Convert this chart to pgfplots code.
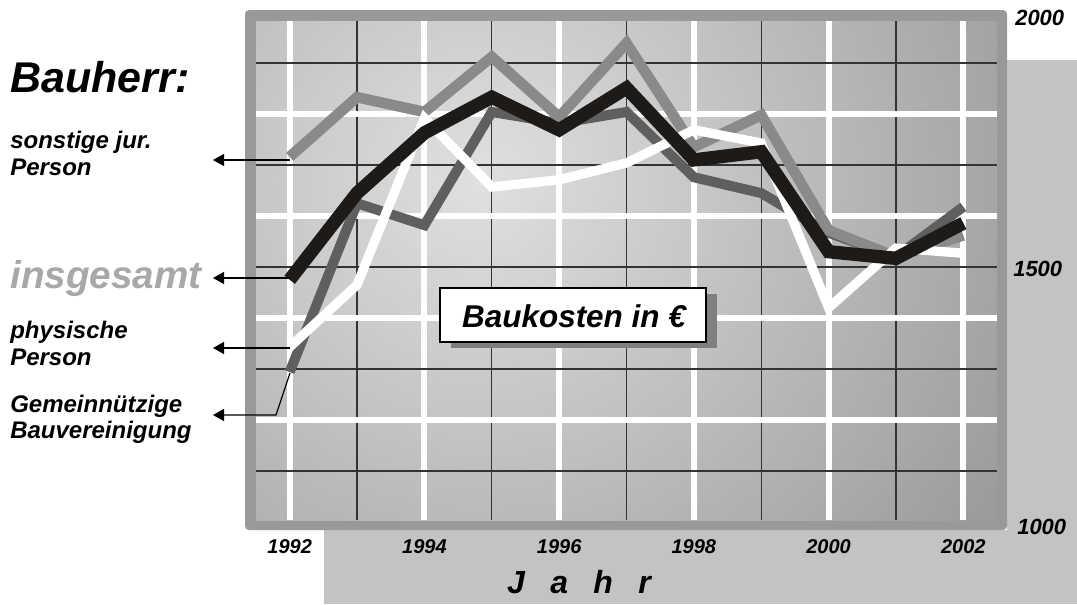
\documentclass[border=0pt]{standalone}
\usepackage{fontspec}
\setmainfont{Liberation Sans}
\usepackage{pgfplots}
\pgfplotsset{compat=1.18}
\usetikzlibrary{arrows.meta}
\definecolor{medg}{HTML}{8A8A8A}
\definecolor{darkg}{HTML}{5F5F5F}
\definecolor{lineblack}{HTML}{1E1A17}
\definecolor{framegray}{HTML}{999999}
\definecolor{panel}{HTML}{C3C3C3}
\definecolor{shadowc}{HTML}{7F7F7F}
\definecolor{insg}{HTML}{A8A8A8}
\definecolor{griddark}{HTML}{333333}
\definecolor{bgin}{HTML}{E0E0E0}
\definecolor{bgout}{HTML}{9A9A9A}
\newcommand{\bi}[1]{\fontsize{#1}{#1}\selectfont\bfseries\itshape}
\begin{document}
\begin{tikzpicture}
\begin{scope}[x=0.75pt,y=-0.75pt]
  \fill[white] (0,0) rectangle (1077,604);
  \useasboundingbox (0,0) rectangle (1077,604);
  \fill[panel] (1007,60) rectangle (1077,604);
  \fill[panel] (324,530) rectangle (1077,604);
  \fill[framegray, rounded corners=3pt] (245,10) rectangle (1007,530);
  \begin{scope}
    \clip (256,21) rectangle (997,520);
    \shade[inner color=bgin, outer color=bgout] (480,180) circle (620);
  \end{scope}
\end{scope}

\begin{axis}[
  at={(192pt,-390pt)}, anchor=south west,
  scale only axis, width=555.75pt, height=374.25pt,
  xmin=1991.5, xmax=2002.5, ymin=1003.9, ymax=1982.4,
  axis line style={draw=none},
  major tick length=0pt, minor tick length=0pt,
  xtick={1992,1994,1996,1998,2000,2002},
  xticklabels={1992,1994,1996,1998,2000,2002},
  minor xtick={1993,1995,1997,1999,2001},
  ytick={1200,1400,1600,1800},
  yticklabels={},
  minor ytick={1100,1300,1500,1700,1900},
  grid=both,
  major grid style={white, line width=4.5pt},
  minor grid style={griddark, line width=0.9pt},
  /pgf/number format/assume math mode=true,
  xticklabel style={font=\bi{15}, anchor=center, yshift=-20.25pt, text=black},
  xlabel={J\hspace{19pt}a\hspace{19pt}h\hspace{19pt}r},
  xlabel style={at={(axis description cs:0.3387,-0.1463)}, anchor=base west, inner sep=0pt, font=\bi{24}},
  clip=false,
]
% Gemeinnuetzige Bauvereinigung
\addplot[darkg, line width=7.5pt] coordinates {
(1992,1294) (1993,1625) (1994,1582) (1995,1804) (1996,1782) (1997,1804)
(1998,1676) (1999,1645) (2000,1567) (2001,1520) (2002,1618)};
% sonstige jur. Person
\addplot[medg, line width=8pt] coordinates {
(1992,1716) (1993,1833) (1994,1804) (1995,1912) (1996,1794) (1997,1939)
(1998,1735) (1999,1798) (2000,1572) (2001,1520) (2002,1562)};
% physische Person
\addplot[white, line width=7pt] coordinates {
(1992,1343) (1993,1465) (1994,1792) (1995,1657) (1996,1671) (1997,1704)
(1998,1769) (1999,1743) (2000,1420) (2001,1537) (2002,1527)};
% insgesamt
\addplot[lineblack, line width=10pt] coordinates {
(1992,1475) (1993,1645) (1994,1763) (1995,1833) (1996,1769) (1997,1851)
(1998,1710) (1999,1726) (2000,1530) (2001,1517) (2002,1586)};
\end{axis}

\begin{scope}[x=0.75pt,y=-0.75pt]
  % title box
  \fill[shadowc] (451,294) rectangle (717,348);
  \draw[line width=1.5pt, fill=white] (440,288) rectangle (706,342);
  \node[font=\bi{23.6}, inner sep=0pt] at (574,316) {Baukosten in €};
  % right value labels
  \node[anchor=west, inner sep=0pt, font=\bi{16.5}] at (1015,18) {2000};
  \node[anchor=west, inner sep=0pt, font=\bi{16.5}] at (1013,269) {1500};
  \node[anchor=west, inner sep=0pt, font=\bi{16.5}] at (1017,527) {1000};
  % left legend
  \node[anchor=base west, inner sep=0pt, font=\bi{32.25}] at (10,92) {Bauherr:};
  \node[anchor=base west, inner sep=0pt, font=\bi{18}] at (10,148) {sonstige jur.};
  \node[anchor=base west, inner sep=0pt, font=\bi{18}] at (10,175) {Person};
  \node[anchor=base west, inner sep=0pt, font=\bi{29}, text=insg] at (10,288) {insgesamt};
  \node[anchor=base west, inner sep=0pt, font=\bi{18}] at (10,338) {physische};
  \node[anchor=base west, inner sep=0pt, font=\bi{18}] at (10,365) {Person};
  \node[anchor=base west, inner sep=0pt, font=\bi{18}] at (10,412) {Gemeinnützige};
  \node[anchor=base west, inner sep=0pt, font=\bi{18}] at (10,438) {Bauvereinigung};
  \begin{scope}[line width=0.9pt, -{Triangle[length=8.25pt,width=9pt]}]
    \draw (290,160) -- (213,160);
    \draw (290,278) -- (213,278);
    \draw (290,348) -- (213,348);
    \draw (290,373) -- (276,415) -- (213,415);
  \end{scope}
\end{scope}
\end{tikzpicture}
\end{document}
